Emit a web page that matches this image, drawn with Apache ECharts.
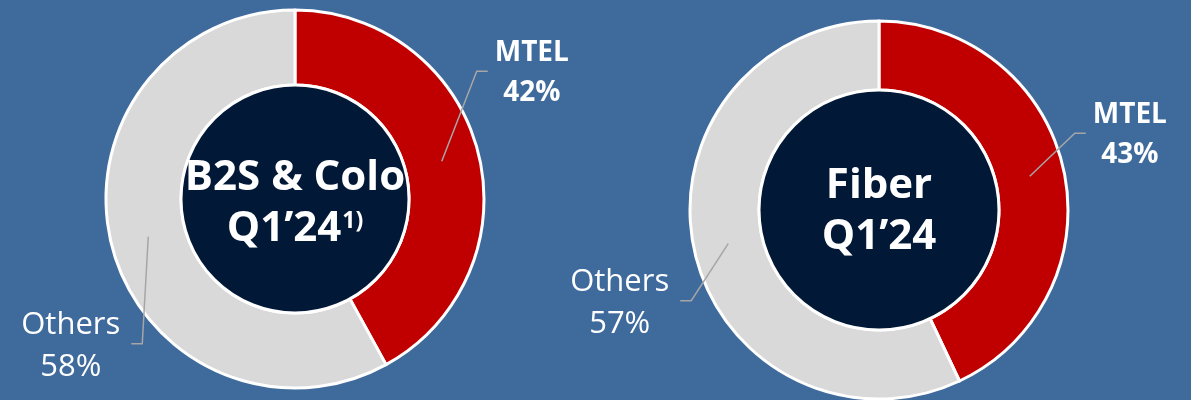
<!DOCTYPE html>
<html>
<head>
<meta charset="utf-8">
<script src="https://cdn.jsdelivr.net/npm/echarts@6/dist/echarts.min.js"></script>
<style>
  html, body { margin: 0; padding: 0; background: #3F6A9C; }
  #chart { width: 1191px; height: 400px; }
</style>
</head>
<body>
<div id="chart"></div>
<script>
// data
const categories = ['MTEL', 'Others'];
const b2sValues = [42, 58];
const fiberValues = [43, 57];
const centerTitles = ['B2S & Colo', 'Fiber'];
const periodLabels = ['Q1’24', 'Q1’24'];
const footnotes = ['1)', ''];

// look
const sliceColors = ['#C00000', '#D9D9D9'];
const font = '"Open Sans", "Noto Sans", sans-serif';
const donuts = [
    { center: [295, 199], inner: 114, outer: 189, values: b2sValues, textShift: 5 },
    { center: [879, 210], inner: 120, outer: 189, values: fiberValues, textShift: 2 }
];
// leader line bend offset from the start point, per slice
const bends = [
    [[35, -90], [-6, 107]],
    [[45, -43], [-37, 57]]
];
const labelStyles = [
    { fontFamily: font, fontSize: 28, fontWeight: 'bold', lineHeight: 40, color: '#fff' },
    { fontFamily: font, fontSize: 31, fontWeight: 'normal', lineHeight: 42, color: '#fff' }
];

let myChart = echarts.init(document.getElementById('chart'));

function leaderLayout(k) {
    return function (params) {
        let d = donuts[k]
        let vals = d.values
        let total = vals.reduce((a, b) => a + b, 0)
        let before = 0
        for (let j = 0; j < params.dataIndex; j++) before += vals[j]
        let mid = (before + vals[params.dataIndex] / 2) / total * Math.PI * 2
        let rm = (d.inner + d.outer) / 2
        let sx = d.center[0] + rm * Math.sin(mid)
        let sy = d.center[1] - rm * Math.cos(mid)
        let b = bends[k][params.dataIndex]
        let bx = sx + b[0]
        let by = sy + b[1]
        let dir = b[0] > 0 ? 1 : -1
        let ex = bx + dir * 11
        let w = params.labelRect.width
        let gap = dir > 0 ? 7 : 11
        return {
            x: ex + dir * (gap + w / 2),
            y: by + 2,
            align: 'center',
            verticalAlign: 'middle',
            labelLinePoints: [[sx, sy], [bx, by], [ex, by]]
        }
    }
}

let series = []
donuts.forEach((d, k) => {
    // visible ring
    series.push({
        type: 'pie',
        center: d.center,
        radius: [d.inner, d.outer],
        startAngle: 90,
        clockwise: true,
        silent: true,
        z: 2,
        itemStyle: { borderColor: '#fff', borderWidth: 3 },
        label: { show: false },
        labelLine: { show: false },
        data: categories.map((c, i) => ({
            name: c,
            value: d.values[i],
            itemStyle: { color: sliceColors[i] }
        }))
    })
    // same slices, transparent, only to carry labels + leader lines above the ring
    series.push({
        type: 'pie',
        center: d.center,
        radius: [d.inner, d.outer],
        startAngle: 90,
        clockwise: true,
        silent: true,
        z: 4,
        avoidLabelOverlap: false,
        itemStyle: { color: 'rgba(0,0,0,0)', borderWidth: 0 },
        label: {
            show: true,
            position: 'outside',
            formatter: '{b}\n{c}%',
            align: 'center'
        },
        labelLine: {
            show: true,
            length: 10,
            length2: 10,
            lineStyle: { color: '#A6A6A6', width: 1.5 }
        },
        labelLayout: leaderLayout(k),
        data: categories.map((c, i) => ({
            name: c,
            value: d.values[i],
            label: labelStyles[i]
        }))
    })
    let sup = footnotes[k] ? '{s|' + footnotes[k] + '}' : ''
    series.push({
        type: 'pie',
        center: d.center,
        radius: [0, d.inner],
        silent: true,
        z: 3,
        itemStyle: { color: '#011836', borderColor: '#fff', borderWidth: 3 },
        label: {
            show: true,
            position: 'center',
            formatter: '{p| }\n{t|' + centerTitles[k] + '}\n{t|' + periodLabels[k] + '}' + sup,
            rich: {
                p: { fontSize: 1, lineHeight: d.textShift * 2 },
                t: { fontFamily: font, fontSize: 42, fontWeight: 'bold', lineHeight: 51, color: '#fff' },
                s: { fontFamily: font, fontSize: 23, fontWeight: 'bold', lineHeight: 23, color: '#fff', verticalAlign: 'top', padding: [6, 0, 0, 1] }
            }
        },
        labelLine: { show: false },
        data: [{ name: centerTitles[k], value: 1 }]
    })
})

myChart.setOption({
    backgroundColor: '#3F6A9C',
    animation: false,
    series: series
})
window.addEventListener('resize', () => { myChart.resize() })
</script>
</body>
</html>
